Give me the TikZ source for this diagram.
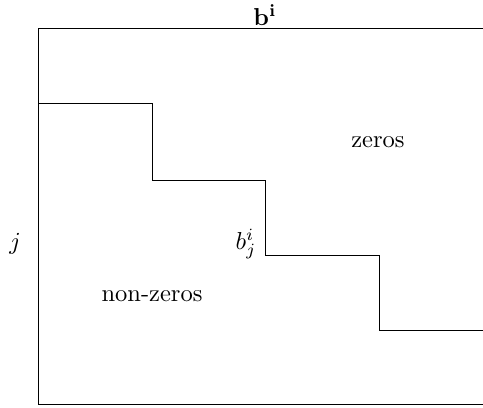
\documentclass[tikz,border=0pt]{standalone}
\begin{document}
\begin{tikzpicture}[x=0.408pt,y=-0.408pt,lbl/.style={inner sep=0pt}]
\useasboundingbox (0,0) rectangle (483,408);
\draw (483,28) -- (38,28) -- (38,404) -- (483,404);
\draw (38,103) -- (152,103) -- (152,180) -- (265,180) -- (265,255) -- (379,255) -- (379,330) -- (483,330);
\node[lbl] (bi) at (265,15) {$\mathbf{b^i}$};
\node[lbl] (zeros) at (378,142) {zeros};
\node[lbl] (nonzeros) at (152,296) {non-zeros};
\node[lbl] (j) at (15,244) {$j$};
\node[lbl] (bij) at (246,244) {$b_j^i$};
\end{tikzpicture}
\end{document}
